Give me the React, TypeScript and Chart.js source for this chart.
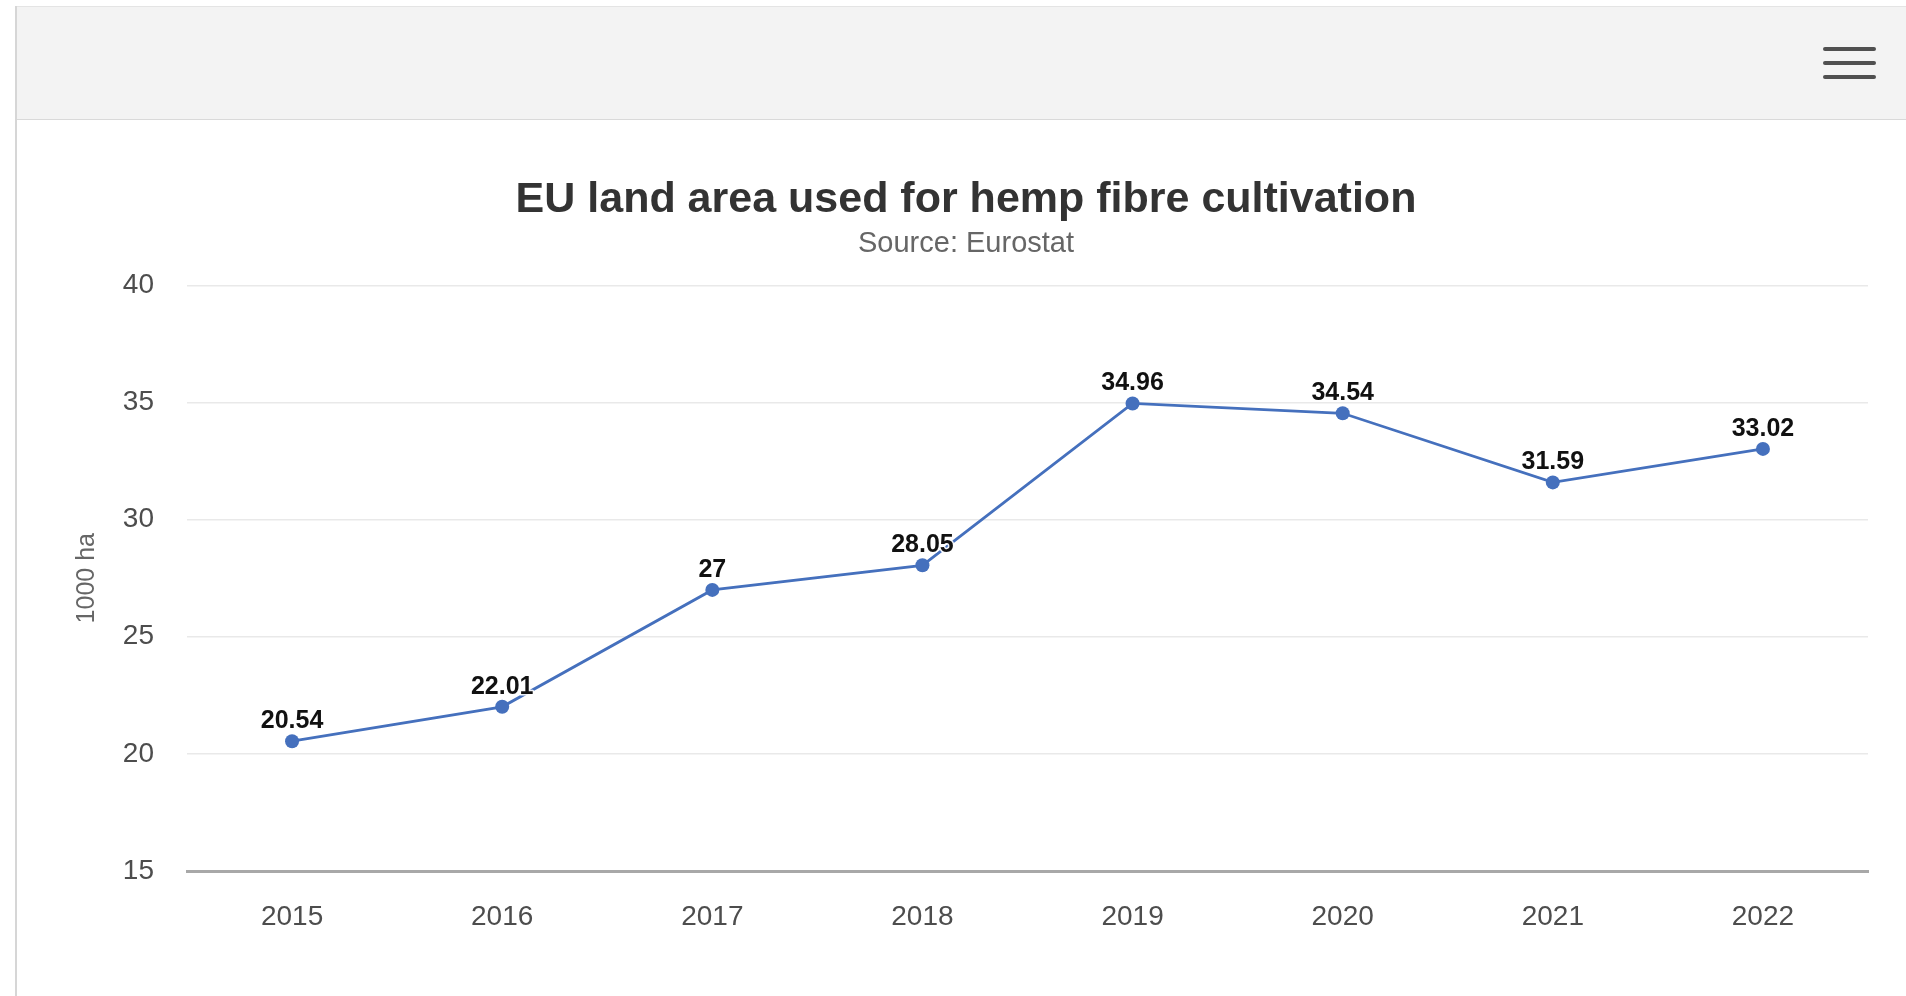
import React, { useEffect, useRef } from "react";
import { Chart, registerables } from "chart.js";

Chart.register(...registerables);

const years: string[] = ["2015", "2016", "2017", "2018", "2019", "2020", "2021", "2022"];
const areaValues: number[] = [20.54, 22.01, 27, 28.05, 34.96, 34.54, 31.59, 33.02];
const yMin = 15;
const yMax = 40;
const yStep = 5;
const titleText = "EU land area used for hemp fibre cultivation";
const subtitleText = "Source: Eurostat";
const yAxisTitle = "1000 ha";

const FONT = "'Liberation Sans', Arial, Helvetica, sans-serif";
const LINE_COLOR = "#4570bd";

const dataLabelPlugin = {
  id: "pointValueLabels",
  afterDatasetsDraw(chart: any) {
    const ctx = chart.ctx;
    const meta = chart.getDatasetMeta(0);
    ctx.save();
    ctx.font = `bold 25px ${FONT}`;
    ctx.textAlign = "center";
    ctx.textBaseline = "middle";
    ctx.lineJoin = "round";
    meta.data.forEach((pt: any, i: number) => {
      const text = String(areaValues[i]);
      const x = pt.x;
      const y = pt.y - 20;
      ctx.lineWidth = 3;
      ctx.strokeStyle = "rgba(255,255,255,0.9)";
      ctx.strokeText(text, x, y);
      ctx.fillStyle = "#111111";
      ctx.fillText(text, x, y);
    });
    ctx.restore();
  },
};

function HempChart() {
  const canvasRef = useRef<HTMLCanvasElement | null>(null);

  useEffect(() => {
    if (!canvasRef.current) return;
    const chart = new Chart(canvasRef.current, {
      type: "line",
      data: {
        labels: years,
        datasets: [
          {
            label: "Hemp fibre area",
            data: areaValues,
            borderColor: LINE_COLOR,
            backgroundColor: LINE_COLOR,
            borderWidth: 2.8,
            pointRadius: 7,
            pointBackgroundColor: LINE_COLOR,
            pointBorderWidth: 0,
            tension: 0,
            fill: false,
          },
        ],
      },
      options: {
        responsive: false,
        animation: false,
        devicePixelRatio: 1,
        layout: { padding: { left: 47, right: 38, top: 0, bottom: 0 } },
        plugins: {
          legend: { display: false },
          tooltip: { enabled: false },
          title: {
            display: true,
            text: titleText,
            color: "#333333",
            font: { family: FONT, size: 43, weight: "bold" },
            padding: { top: 55, bottom: 0 },
          },
          subtitle: {
            display: true,
            text: subtitleText,
            color: "#666666",
            font: { family: FONT, size: 29, weight: "normal" },
            padding: { top: 1, bottom: 24 },
          },
        },
        scales: {
          x: {
            offset: true,
            grid: { display: false, drawTicks: false },
            border: { display: true, color: "#a8a8a8", width: 3 },
            ticks: {
              color: "#4d4d4d",
              font: { family: FONT, size: 28 },
              padding: 29,
              maxRotation: 0,
            },
            afterFit(scale: any) {
              scale.height = 125;
            },
          },
          y: {
            min: yMin,
            max: yMax,
            grid: { color: "#e9e9e9", lineWidth: 1.5, drawTicks: false },
            border: { display: false },
            ticks: {
              stepSize: yStep,
              color: "#4d4d4d",
              font: { family: FONT, size: 28 },
              padding: 33,
            },
            title: {
              display: true,
              text: yAxisTitle,
              color: "#666666",
              font: { family: FONT, size: 25 },
              padding: { top: 8, bottom: 0 },
            },
            afterFit(scale: any) {
              scale.width = 123;
            },
          },
        },
      },
      plugins: [dataLabelPlugin],
    } as any);
    return () => chart.destroy();
  }, []);

  return (
    <canvas
      ref={canvasRef}
      width={1889}
      height={877}
      style={{ position: "absolute", left: 17, top: 119, width: 1889, height: 877, display: "block" }}
    />
  );
}

export default function App() {
  useEffect(() => {
    document.body.style.margin = "0";
    document.body.style.overflow = "hidden";
  }, []);

  const barStyle: React.CSSProperties = {
    position: "absolute",
    left: 1823,
    width: 53,
    height: 4,
    borderRadius: 2,
    background: "#505050",
  };

  return (
    <div
      style={{
        position: "absolute",
        left: 0,
        top: 0,
        width: 1906,
        height: 996,
        background: "#ffffff",
        overflow: "hidden",
      }}
    >
      <div
        style={{
          position: "absolute",
          left: 17,
          top: 6,
          width: 1889,
          height: 112,
          background: "#f3f3f3",
          borderTop: "1px solid #e4e4e4",
          borderBottom: "1px solid #d9d9d9",
        }}
      />
      <div
        style={{
          position: "absolute",
          left: 15,
          top: 6,
          width: 2,
          height: 990,
          background: "#d6d6d6",
        }}
      />
      <div style={{ ...barStyle, top: 47 }} />
      <div style={{ ...barStyle, top: 61 }} />
      <div style={{ ...barStyle, top: 75 }} />
      <HempChart />
    </div>
  );
}
